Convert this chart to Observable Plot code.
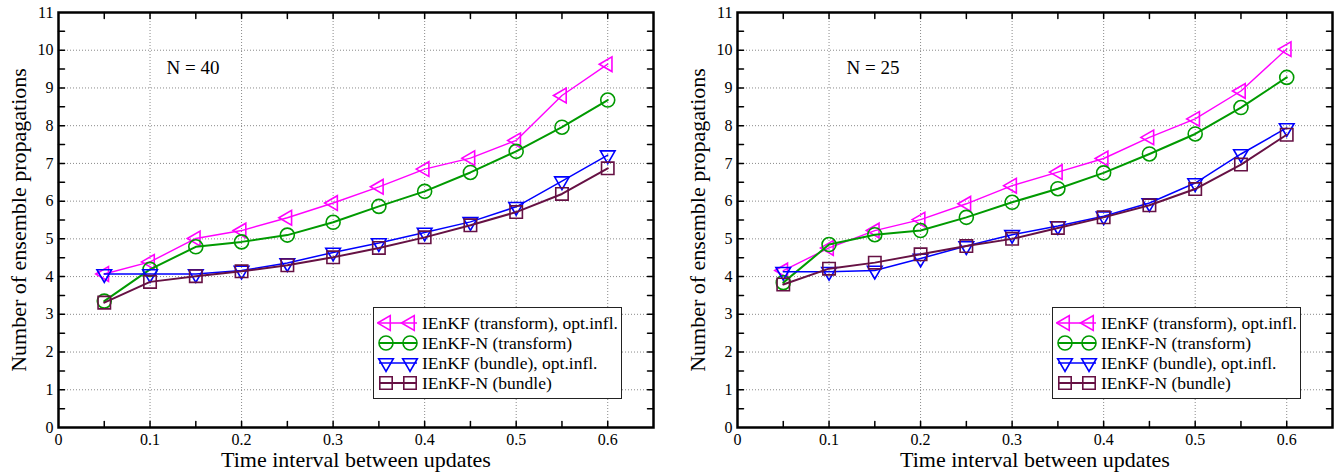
<!DOCTYPE html>
<html><head><meta charset="utf-8">
<script src="https://cdn.jsdelivr.net/npm/d3@7"></script>
<script src="https://cdn.jsdelivr.net/npm/@observablehq/plot@0.6"></script>
<style>
body{margin:0;background:#fff;font-family:"Liberation Serif","Times New Roman",serif;}
#wrap{display:flex;width:1338px;height:474px;}
.panel{position:relative;width:669px;height:474px;flex:none;}
.legend{position:absolute;top:307px;width:247px;height:80px;padding:5px 0;border:1px solid #222;background:#fff;box-sizing:content-box;font-family:"Liberation Serif","Times New Roman",serif;}
.row{display:flex;align-items:center;height:20px;font-size:17.5px;line-height:20px;color:#000;white-space:nowrap;}
.row svg{flex:none;margin-left:3px;margin-right:3px;}
</style></head><body><div id="wrap"></div>
<script>
// time interval between updates
const dt = [0.05, 0.1, 0.15, 0.2, 0.25, 0.3, 0.35, 0.4, 0.45, 0.5, 0.55, 0.6];

const seriesNames = ["IEnKF (transform), opt.infl.", "IEnKF-N (transform)", "IEnKF (bundle), opt.infl.", "IEnKF-N (bundle)"];
const seriesColors = ["#ff00ff", "#009a00", "#0000ff", "#661144"];
const seriesSymbols = ["triangle2", "circle", "triangle2", "square"];
const seriesRotate = [-90, 0, 180, 0];
const seriesWidths = [1.4, 2, 1.5, 2];

// N = 40
const n40Transform  = [4.07, 4.39, 5.01, 5.22, 5.56, 5.95, 6.38, 6.85, 7.14, 7.61, 8.80, 9.63];
const n40NTransform = [3.35, 4.19, 4.79, 4.92, 5.10, 5.44, 5.86, 6.26, 6.76, 7.32, 7.96, 8.68];
const n40Bundle     = [4.07, 4.07, 4.07, 4.16, 4.36, 4.64, 4.89, 5.17, 5.45, 5.85, 6.53, 7.22];
const n40NBundle    = [3.31, 3.86, 4.01, 4.14, 4.30, 4.51, 4.76, 5.04, 5.36, 5.71, 6.19, 6.87];

// N = 25
const n25Transform  = [4.16, 4.76, 5.22, 5.51, 5.93, 6.41, 6.77, 7.13, 7.69, 8.18, 8.92, 10.03];
const n25NTransform = [3.84, 4.85, 5.11, 5.22, 5.57, 5.97, 6.33, 6.75, 7.25, 7.78, 8.48, 9.28];
const n25Bundle     = [4.13, 4.13, 4.16, 4.48, 4.81, 5.11, 5.34, 5.60, 5.95, 6.48, 7.25, 7.94];
const n25NBundle    = [3.79, 4.21, 4.37, 4.59, 4.81, 5.00, 5.29, 5.57, 5.89, 6.32, 6.97, 7.76];

const xTickValues = [0, 0.1, 0.2, 0.3, 0.4, 0.5, 0.6];
const xTickLabels = ["0", "0.1", "0.2", "0.3", "0.4", "0.5", "0.6"];
const yTickValues = [0, 1, 2, 3, 4, 5, 6, 7, 8, 9, 10, 11];
const yTickLabels = ["0", "1", "2", "3", "4", "5", "6", "7", "8", "9", "10", "11"];
const xGrid = [0.1, 0.2, 0.3, 0.4, 0.5, 0.6];
const yGrid = [1, 2, 3, 4, 5, 6, 7, 8, 9, 10];
const xMarks = [0.05, 0.1, 0.15, 0.2, 0.25, 0.3, 0.35, 0.4, 0.45, 0.5, 0.55, 0.6];
const yMarks = [0.5, 1, 1.5, 2, 2.5, 3, 3.5, 4, 4.5, 5, 5.5, 6, 6.5, 7, 7.5, 8, 8.5, 9, 9.5, 10, 10.5];
const xDomain = [0, 0.65];
const yDomain = [0, 11];
const xLabel = "Time interval between updates";
const yLabel = "Number of ensemble propagations";

const panels = [
  {series: [n40Transform, n40NTransform, n40Bundle, n40NBundle], note: [{x: 0.147, y: 9.52, text: "N = 40"}], marginLeft: 58, marginRight: 16, legendLeft: 373},
  {series: [n25Transform, n25NTransform, n25Bundle, n25NBundle], note: [{x: 0.148, y: 9.52, text: "N = 25"}], marginLeft: 68, marginRight: 6, legendLeft: 383}
];

const FONT = "'Liberation Serif', 'Times New Roman', serif";
const tickShape = {draw(context, l) { context.moveTo(0, 0); context.lineTo(0, -l); }};
const gridStyle = {stroke: "#8a8a8a", strokeWidth: 1, strokeDasharray: "1,2"};
const tickStyle = {length: 6, anchor: "start", shape: tickShape, stroke: "#000", strokeWidth: 1.5};

const wrap = document.getElementById("wrap");

for (const p of panels) {
  const marks = [
    Plot.ruleX(xGrid, gridStyle),
    Plot.ruleY(yGrid, gridStyle)
  ];
  p.series.forEach((vals, k) => {
    const rows = dt.map((x, i) => ({x, y: vals[i]}));
    marks.push(Plot.line(rows, {x: "x", y: "y", stroke: seriesColors[k], strokeWidth: seriesWidths[k]}));
    marks.push(Plot.dot(rows, {x: "x", y: "y", symbol: seriesSymbols[k], rotate: seriesRotate[k], r: 7, fill: "none", stroke: seriesColors[k], strokeWidth: 1.6}));
  });
  marks.push(
    Plot.vector(xMarks, {x: d => d, frameAnchor: "bottom", rotate: 0, ...tickStyle}),
    Plot.vector(xMarks, {x: d => d, frameAnchor: "top", rotate: 180, ...tickStyle}),
    Plot.vector(yMarks, {y: d => d, frameAnchor: "left", rotate: 90, ...tickStyle}),
    Plot.vector(yMarks, {y: d => d, frameAnchor: "right", rotate: -90, ...tickStyle}),
    Plot.frame({stroke: "#000", strokeWidth: 2.5}),
    Plot.axisX({ticks: xTickValues, tickFormat: d => xTickLabels[xTickValues.indexOf(d)], tickSize: 0, tickPadding: 6, fontSize: 16, fontFamily: FONT, label: null}),
    Plot.axisY({ticks: yTickValues, tickFormat: d => yTickLabels[yTickValues.indexOf(d)], tickSize: 0, tickPadding: 5, fontSize: 16, fontFamily: FONT, label: null}),
    Plot.text([xLabel], {text: d => d, frameAnchor: "bottom", textAnchor: "middle", dy: 32, fontSize: 22, fontFamily: FONT, lineAnchor: "middle"}),
    Plot.text([yLabel], {text: d => d, frameAnchor: "left", textAnchor: "middle", dx: -40, rotate: -90, fontSize: 22, fontFamily: FONT, lineAnchor: "middle"}),
    Plot.text(p.note, {x: "x", y: "y", text: "text", fontSize: 19, fontFamily: FONT, lineAnchor: "middle"})
  );
  const chart = Plot.plot({
    width: 669, height: 474,
    marginLeft: p.marginLeft, marginRight: p.marginRight, marginTop: 12, marginBottom: 47,
    x: {domain: xDomain, range: [p.marginLeft, 669 - p.marginRight]},
    y: {domain: yDomain},
    style: {fontFamily: FONT, fontSize: "16px", color: "#000", background: "#fff"},
    marks
  });
  const div = document.createElement("div");
  div.className = "panel";
  div.appendChild(chart);

  const legend = document.createElement("div");
  legend.className = "legend";
  legend.style.left = p.legendLeft + "px";
  seriesNames.forEach((name, k) => {
    const row = document.createElement("div");
    row.className = "row";
    const sw = d3.create("svg").attr("width", 42).attr("height", 20);
    sw.append("line").attr("x1", 2).attr("x2", 40).attr("y1", 10).attr("y2", 10)
      .attr("stroke", seriesColors[k]).attr("stroke-width", seriesWidths[k]);
    const sym = d3.symbol(seriesSymbols[k] === "circle" ? d3.symbolCircle : seriesSymbols[k] === "square" ? d3.symbolSquare : d3.symbolTriangle2, Math.PI * 49);
    for (const cx of [9, 33]) {
      sw.append("path").attr("d", sym()).attr("fill", "none").attr("stroke", seriesColors[k]).attr("stroke-width", 1.6)
        .attr("transform", `translate(${cx},10) rotate(${seriesRotate[k]})`);
    }
    row.appendChild(sw.node());
    const t = document.createElement("span");
    t.textContent = name;
    row.appendChild(t);
    legend.appendChild(row);
  });
  div.appendChild(legend);
  wrap.appendChild(div);
}
</script>
</body></html>
